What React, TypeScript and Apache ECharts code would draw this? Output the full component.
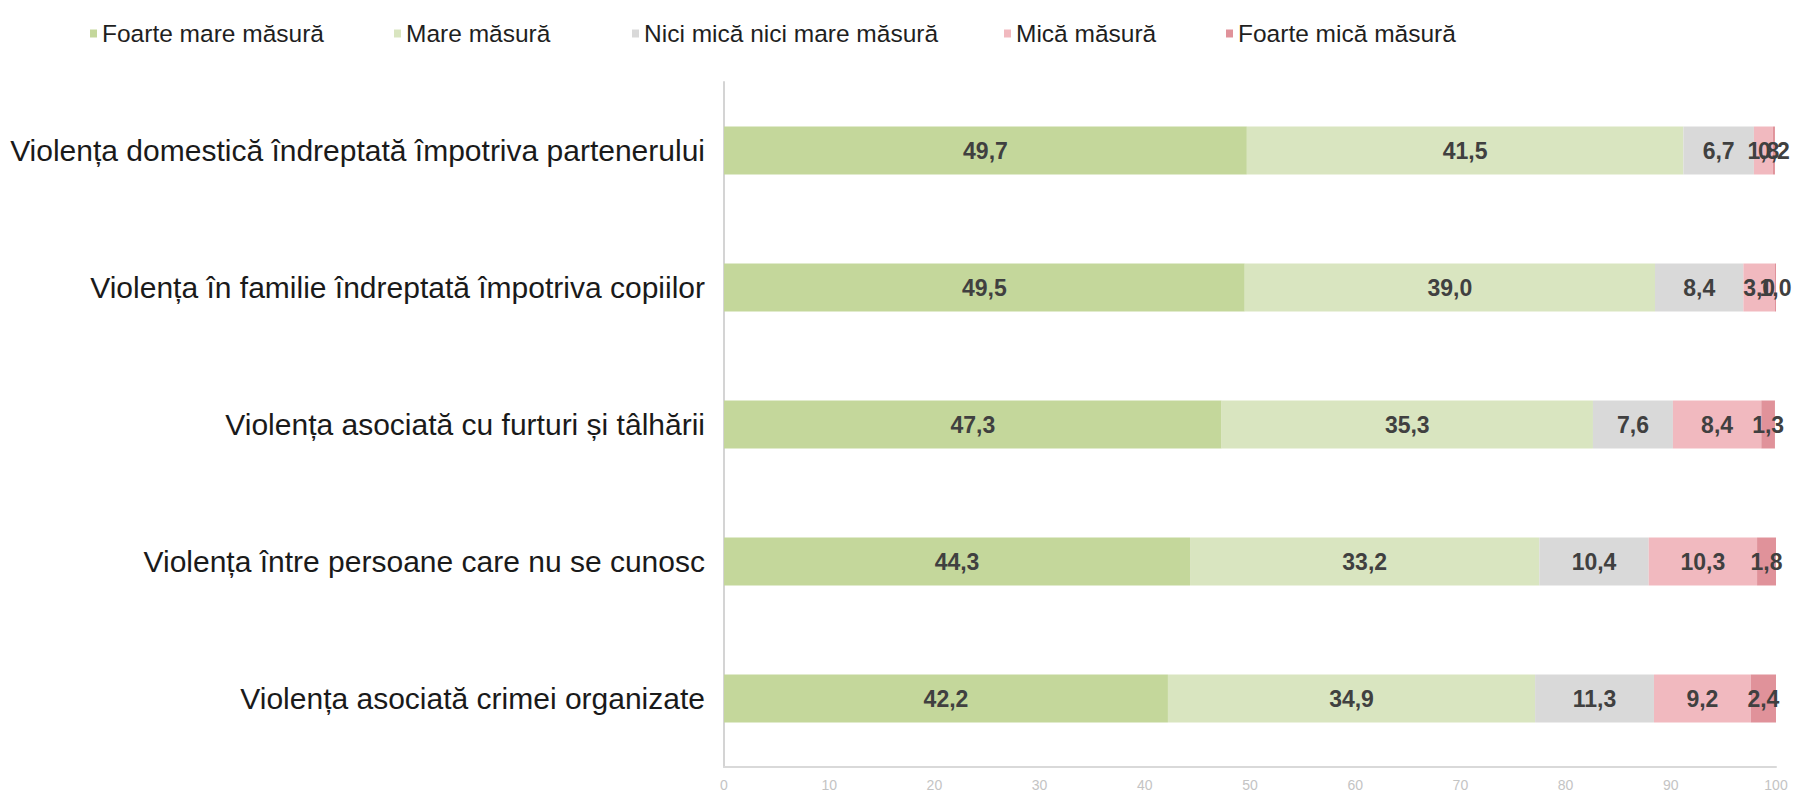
import React, { useEffect, useRef } from "react";
import * as echarts from "echarts";

const categories = [
  "Violența domestică îndreptată împotriva partenerului",
  "Violența în familie îndreptată împotriva copiilor",
  "Violența asociată cu furturi și tâlhării",
  "Violența între persoane care nu se cunosc",
  "Violența asociată crimei organizate",
];

const seriesNames = [
  "Foarte mare măsură",
  "Mare măsură",
  "Nici mică nici mare măsură",
  "Mică măsură",
  "Foarte mică măsură",
];

const foarteMare = [49.7, 49.5, 47.3, 44.3, 42.2];
const mare = [41.5, 39.0, 35.3, 33.2, 34.9];
const nici = [6.7, 8.4, 7.6, 10.4, 11.3];
const mica = [1.8, 3.0, 8.4, 10.3, 9.2];
const foarteMica = [0.2, 1.0, 1.3, 1.8, 2.4];

const xTicks = [0, 10, 20, 30, 40, 50, 60, 70, 80, 90, 100];

const colors = ["#c4d79b", "#d9e5c0", "#d9d9d9", "#f1b9bf", "#e0929a"];
const legendLefts = [85, 389, 627, 999, 1221];

export default function App() {
  const ref = useRef<HTMLDivElement>(null);
  useEffect(() => {
    if (!ref.current) return;
    const chart = echarts.init(ref.current, undefined, { renderer: "svg" });
    const values = [foarteMare, mare, nici, mica, foarteMica];
    const fmt = (v: number) => v.toFixed(1).replace(".", ",");
    chart.setOption({
      animation: false,
      backgroundColor: "#ffffff",
      legend: seriesNames.map((n, i) => ({
        data: [n],
        left: legendLefts[i],
        top: 16,
        itemWidth: 7,
        itemHeight: 8,
        itemGap: 0,
        icon: "rect",
        textStyle: {
          fontFamily: "Liberation Sans, Arial, sans-serif",
          fontSize: 24.5,
          color: "#1f1f1f",
        },
      })),
      grid: { left: 724, right: 29, top: 82, bottom: 41, containLabel: false },
      xAxis: {
        type: "value",
        min: xTicks[0],
        max: xTicks[xTicks.length - 1],
        interval: 10,
        axisLine: { show: true, lineStyle: { color: "#d9d9d9", width: 2 } },
        axisTick: { show: false },
        splitLine: { show: false },
        axisLabel: {
          color: "#c4c4c4",
          fontSize: 14,
          margin: 11,
          fontFamily: "Liberation Sans, Arial, sans-serif",
        },
      },
      yAxis: {
        type: "category",
        data: categories,
        inverse: true,
        axisLine: { show: true, lineStyle: { color: "#d4d4d4", width: 2 } },
        axisTick: { show: false },
        axisLabel: {
          color: "#1a1a1a",
          fontSize: 30,
          margin: 19,
          fontFamily: "Liberation Sans, Arial, sans-serif",
        },
      },
      series: seriesNames.map((n, i) => ({
        name: n,
        type: "bar",
        stack: "total",
        barWidth: 48,
        data: values[i],
        itemStyle: { color: colors[i] },
        label: {
          show: true,
          position: "inside",
          formatter: (p: any) => fmt(p.value),
          color: "#404040",
          fontWeight: "bold",
          fontSize: 23,
          fontFamily: "Liberation Sans, Arial, sans-serif",
        },
      })),
    });
    return () => chart.dispose();
  }, []);
  return (
    <div
      ref={ref}
      style={{ position: "absolute", left: 0, top: 0, width: 1805, height: 808 }}
    />
  );
}
